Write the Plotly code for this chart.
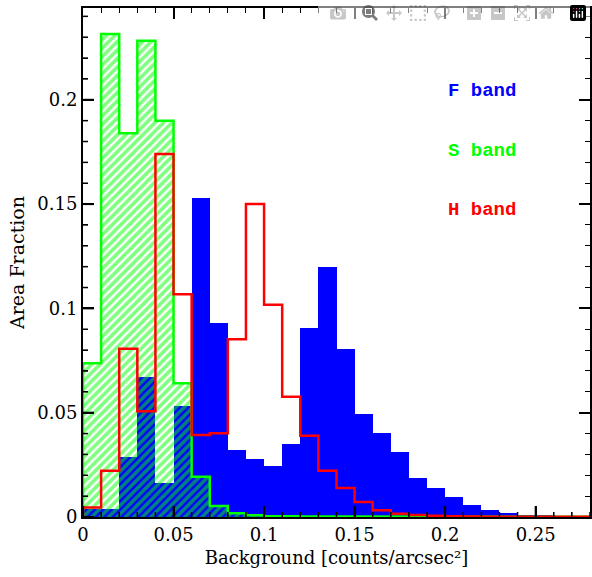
import plotly.graph_objects as go

bin_edges_start = [round(0.01 * i, 2) for i in range(28)]
bin_width = 0.01

f_band = [0.004, 0.004, 0.029, 0.067, 0.0165, 0.0534, 0.153, 0.093, 0.032, 0.0277,
          0.0246, 0.0349, 0.0908, 0.1197, 0.0807, 0.0492, 0.0401, 0.031, 0.0186, 0.0141,
          0.0097, 0.0056, 0.0032, 0.0019, 0.0011, 0.0006, 0.0004, 0.0003]
s_band = [0.0737, 0.2315, 0.1839, 0.2283, 0.190, 0.0641, 0.0193, 0.0053, 0.0018, 0.0008,
          0.0004, 0.0003, 0.0002, 0.0002, 0.0001, 0.0001, 0.0001, 0.0001, 0.0001, 0.0001,
          0.0001, 0.0001, 0.0001, 0.0001, 0.0001, 0.0001, 0.0001, 0.0001]
h_band = [0.0045, 0.0222, 0.0807, 0.0507, 0.174, 0.1068, 0.0393, 0.0401, 0.0852, 0.150,
          0.1017, 0.0577, 0.039, 0.0222, 0.0139, 0.0072, 0.0032, 0.0015, 0.001, 0.0006,
          0.0003, 0.0002, 0.0001, 0.0001, 0.0001, 0.0001, 0.0001, 0.0001]

x_range = [0, 0.28]
y_range = [0, 0.244]
x_major_step = 0.05
y_major_step = 0.05
minor_step = 0.01

W, H = 592, 577
ML, MR, MT, MB = 83, 2, 8, 60
plot_w = W - ML - MR
plot_h = H - MT - MB
major_len, minor_len = 11, 5

centers = [s + bin_width / 2 for s in bin_edges_start]


def step_xy(vals):
    xs = [bin_edges_start[0]]
    ys = [0]
    for s, v in zip(bin_edges_start, vals):
        xs += [s, s + bin_width]
        ys += [v, v]
    xs.append(bin_edges_start[-1] + bin_width)
    ys.append(0)
    return xs, ys


BLUE = "#0000ff"
GREEN = "#00ff00"
RED = "#ff0000"

fig = go.Figure()

fig.add_trace(go.Bar(x=centers, y=f_band, width=bin_width,
                     marker=dict(color=BLUE, line=dict(width=0)),
                     showlegend=False, hoverinfo="skip"))
fig.add_trace(go.Bar(x=centers, y=s_band, width=bin_width,
                     marker=dict(color="rgba(0,0,0,0)", line=dict(width=0),
                                 pattern=dict(shape="/", fgcolor=GREEN,
                                              bgcolor="rgba(0,0,0,0)",
                                              fillmode="overlay", size=6,
                                              solidity=0.6)),
                     showlegend=False, hoverinfo="skip"))
gx, gy = step_xy(s_band)
fig.add_trace(go.Scatter(x=gx, y=gy, mode="lines",
                         line=dict(color=GREEN, width=2.5),
                         showlegend=False, hoverinfo="skip"))
hx, hy = step_xy(h_band)
fig.add_trace(go.Scatter(x=hx, y=hy, mode="lines",
                         line=dict(color=RED, width=2.5),
                         showlegend=False, hoverinfo="skip"))

labels = [("<b>F band</b>", BLUE, 0.204), ("<b>S band</b>", GREEN, 0.1755), ("<b>H band</b>", RED, 0.147)]
for txt, col, yy in labels:
    fig.add_annotation(x=0.2205, y=yy, text=txt, showarrow=False,
                       xanchor="center", yanchor="middle",
                       font=dict(family="Liberation Mono", size=19, color=col))

# inside ticks on the bottom and left frame edges
n_x = int(round((x_range[1] - x_range[0]) / minor_step))
for i in range(n_x + 1):
    t = round(x_range[0] + i * minor_step, 4)
    is_major = abs(t / x_major_step - round(t / x_major_step)) < 1e-6
    L = major_len if is_major else minor_len
    fig.add_shape(type="line", xref="x", yref="paper", x0=t, x1=t, y0=0, y1=L / plot_h,
                  line=dict(color="black", width=2 if is_major else 1.5), layer="above")
n_y = int((y_range[1] - y_range[0]) / minor_step + 1e-9)
for i in range(n_y + 1):
    t = round(y_range[0] + i * minor_step, 4)
    is_major = abs(t / y_major_step - round(t / y_major_step)) < 1e-6
    L = major_len if is_major else minor_len
    fig.add_shape(type="line", xref="paper", yref="y", x0=0, x1=L / plot_w, y0=t, y1=t,
                  line=dict(color="black", width=2 if is_major else 1.5), layer="above")

serif = "DejaVu Serif"
tick_style = dict(ticks="inside", ticklen=major_len, tickwidth=1.5, tickcolor="#000000",
                  showline=True, linecolor="black", linewidth=2, mirror="ticks",
                  showgrid=False, zeroline=False, automargin=False,
                  tickmode="linear", tick0=0, layer="above traces",
                  minor=dict(dtick=minor_step, tick0=0, ticks="inside", ticklen=minor_len,
                             tickwidth=1, tickcolor="#000000", showgrid=False))
fig.update_layout(
    width=W, height=H,
    margin=dict(l=ML, r=MR, t=MT, b=MB, autoexpand=False),
    paper_bgcolor="white", plot_bgcolor="rgba(0,0,0,0)",
    barmode="overlay", bargap=0,
    font=dict(family=serif, size=18, color="black"),
    xaxis=dict(range=x_range, dtick=x_major_step, **tick_style,
               tickfont=dict(family=serif, size=18),
               title=dict(text="Background [counts/arcsec²]", standoff=8,
                          font=dict(family=serif, size=18))),
    yaxis=dict(range=y_range, dtick=y_major_step, **tick_style,
               tickfont=dict(family=serif, size=18),
               title=dict(text="Area Fraction", standoff=8,
                          font=dict(family=serif, size=19))),
)

fig.write_html("out.html",
               post_script="document.body.style.margin='0';document.body.style.overflow='hidden';")
